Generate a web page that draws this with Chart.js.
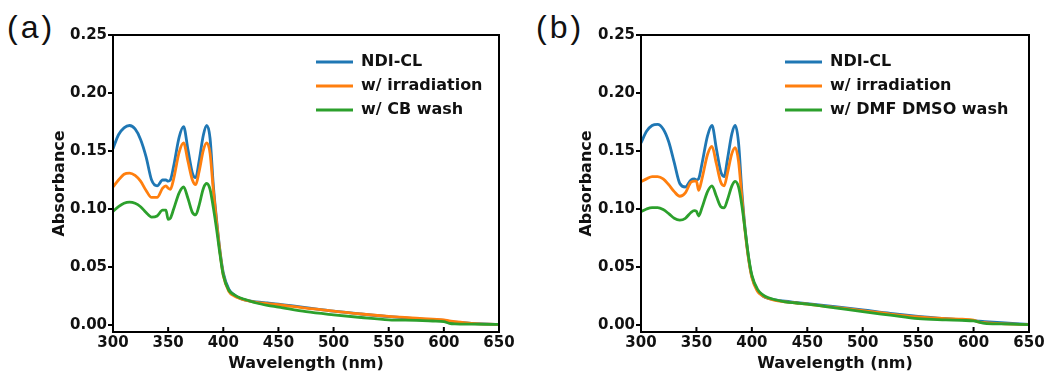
<!DOCTYPE html>
<html lang="en">
<head>
    <meta charset="UTF-8">
    <title>UV-vis absorbance</title>
    <script src="https://cdn.jsdelivr.net/npm/chart.js"></script>
    <style>
        body {
            margin: 0;
            width: 1054px;
            height: 375px;
            background: #fff;
            position: relative;
            overflow: hidden;
        }
        canvas {
            position: absolute;
            top: 0;
        }
        #chartA { left: 0; }
        #chartB { left: 527px; }
        .panel-label {
            position: absolute;
            top: 11px;
            font-family: "Liberation Sans", Arial, sans-serif;
            font-size: 32px;
            line-height: 32px;
            letter-spacing: 3px;
            color: #111;
        }
    </style>
</head>
<body>
    <div class="panel-label" style="left: 7px;">(a)</div>
    <div class="panel-label" style="left: 536px;">(b)</div>
    <canvas id="chartA" width="527" height="375"></canvas>
    <canvas id="chartB" width="527" height="375"></canvas>

    <script>
// wavelength grid (nm) shared by every curve
const wavelengths = [300, 305, 310, 315, 320, 325, 330, 335, 340, 345, 348, 350, 352, 355, 360, 364, 368, 372, 375, 378,
    382, 385, 388, 391, 394, 397, 400, 405, 410, 415, 420, 430, 440, 450, 475, 500, 525, 550, 575, 590,
    600, 605, 610, 625, 650];

// panel (a)
const ndiA = [0.152, 0.164, 0.170, 0.172, 0.169, 0.160, 0.145, 0.125, 0.120, 0.125, 0.125, 0.124, 0.125, 0.137, 0.162, 0.171, 0.151, 0.131, 0.127, 0.141,
    0.164, 0.172, 0.161, 0.120, 0.090, 0.064, 0.045, 0.031, 0.026, 0.023, 0.0215, 0.020, 0.019, 0.018, 0.015, 0.012, 0.0095, 0.0072, 0.0055, 0.0045,
    0.004, 0.003, 0.0025, 0.0015, 0.0005];
const irrA = [0.119, 0.125, 0.130, 0.131, 0.129, 0.124, 0.116, 0.110, 0.110, 0.118, 0.120, 0.118, 0.117, 0.126, 0.149, 0.157, 0.141, 0.125, 0.121, 0.132,
    0.151, 0.157, 0.148, 0.116, 0.088, 0.063, 0.043, 0.029, 0.025, 0.023, 0.0215, 0.0195, 0.0185, 0.0175, 0.0145, 0.012, 0.0095, 0.0075, 0.006, 0.005,
    0.0045, 0.0035, 0.003, 0.0015, 0.0005];
const cbWashA = [0.098, 0.102, 0.105, 0.106, 0.105, 0.102, 0.097, 0.093, 0.094, 0.099, 0.099, 0.091, 0.092, 0.100, 0.114, 0.119, 0.109, 0.097, 0.095, 0.103,
    0.118, 0.122, 0.117, 0.101, 0.082, 0.061, 0.043, 0.030, 0.026, 0.0235, 0.022, 0.019, 0.017, 0.0155, 0.0115, 0.0088, 0.0065, 0.0045, 0.004, 0.0035,
    0.003, 0.0015, 0.001, 0.0008, 0.0005];

// panel (b)
const ndiB = [0.157, 0.167, 0.172, 0.173, 0.169, 0.158, 0.140, 0.122, 0.119, 0.125, 0.126, 0.125, 0.126, 0.139, 0.163, 0.172, 0.152, 0.132, 0.128, 0.143,
    0.165, 0.172, 0.157, 0.115, 0.082, 0.058, 0.042, 0.030, 0.025, 0.023, 0.022, 0.0205, 0.0195, 0.0185, 0.0158, 0.013, 0.010, 0.0075, 0.0055, 0.0045,
    0.0038, 0.0033, 0.003, 0.002, 0.0005];
const irrB = [0.1235, 0.126, 0.128, 0.128, 0.126, 0.121, 0.115, 0.111, 0.114, 0.123, 0.124, 0.124, 0.116, 0.126, 0.147, 0.154, 0.139, 0.123, 0.120, 0.131,
    0.148, 0.153, 0.141, 0.110, 0.080, 0.057, 0.041, 0.029, 0.025, 0.023, 0.0215, 0.020, 0.019, 0.018, 0.0152, 0.0125, 0.0095, 0.007, 0.0055, 0.005,
    0.0042, 0.0025, 0.002, 0.0012, 0.0004];
const dmfWashB = [0.0977, 0.100, 0.1012, 0.1012, 0.0995, 0.096, 0.092, 0.0905, 0.092, 0.097, 0.0986, 0.098, 0.094, 0.101, 0.115, 0.120, 0.111, 0.102, 0.101, 0.108,
    0.120, 0.1238, 0.119, 0.103, 0.081, 0.059, 0.043, 0.031, 0.026, 0.0235, 0.022, 0.020, 0.019, 0.018, 0.0148, 0.0115, 0.0085, 0.0055, 0.0045, 0.004,
    0.0035, 0.0025, 0.0015, 0.001, 0.0003];

const yTicks = [0.00, 0.05, 0.10, 0.15, 0.20, 0.25];
const xTicks = [300, 350, 400, 450, 500, 550, 600, 650];

const colors = ['#1f77b4', '#ff7f0e', '#2ca02c'];
const tickFont = { family: 'DejaVu Sans', size: 15, weight: 'bold' };
const titleFont = { family: 'DejaVu Sans', size: 16, weight: 'bold' };
const labelFont = { family: 'DejaVu Sans', size: 16, weight: 'bold' };

function toPoints(values) {
    return wavelengths.map((w, i) => ({ x: w, y: values[i] }));
}

// black frame round the plot + inward ticks on the x axis
const framePlugin = {
    id: 'frame',
    afterDraw(chart) {
        const { ctx, chartArea: a } = chart;
        const xs = chart.scales.x;
        ctx.save();
        ctx.strokeStyle = '#000';
        ctx.lineWidth = 2;
        ctx.strokeRect(a.left, a.top, a.right - a.left, a.bottom - a.top);
        ctx.beginPath();
        xTicks.forEach(t => {
            const px = xs.getPixelForValue(t);
            ctx.moveTo(px, a.bottom);
            ctx.lineTo(px, a.bottom - 5);
        });
        ctx.stroke();
        ctx.restore();
    }
};

// move the legend to the upper right of the plot
const legendShift = {
    id: 'legendShift',
    afterLayout(chart, args, opts) {
        chart.legend.left = opts.x;
        chart.legend.top = opts.y;
    }
};

function makeChart(id, labels, series, yWidth, padRight, legendX) {
    const ctx = document.getElementById(id).getContext('2d');
    return new Chart(ctx, {
        type: 'line',
        data: {
            datasets: series.map((s, i) => ({
                label: labels[i],
                data: toPoints(s),
                borderColor: colors[i],
                backgroundColor: colors[i],
                borderWidth: 2.8,
                pointRadius: 0,
                fill: false,
                cubicInterpolationMode: 'monotone',
                order: 3 - i
            }))
        },
        options: {
            responsive: false,
            animation: false,
            layout: { padding: { top: 35, right: padRight, left: 0, bottom: 0 } },
            plugins: {
                tooltip: { enabled: false },
                legend: {
                    position: 'chartArea',
                    align: 'start',
                    labels: {
                        usePointStyle: true,
                        pointStyle: 'line',
                        pointStyleWidth: 37,
                        font: labelFont,
                        color: '#111',
                        padding: 8,
                        sort: (a, b) => a.datasetIndex - b.datasetIndex
                    }
                },
                legendShift: { x: legendX, y: 46 }
            },
            scales: {
                x: {
                    type: 'linear',
                    min: 300,
                    max: 650,
                    afterBuildTicks: scale => { scale.ticks = xTicks.map(v => ({ value: v })); },
                    afterFit: scale => { scale.height = 43; },
                    grid: { display: false, drawTicks: false },
                    border: { display: true, color: '#000', width: 2 },
                    ticks: { font: tickFont, color: '#111', padding: 2, maxRotation: 0 },
                    title: {
                        display: true,
                        text: 'Wavelength (nm)',
                        font: titleFont,
                        color: '#111',
                        padding: { top: 0, bottom: 2 }
                    }
                },
                y: {
                    min: -0.006,
                    max: 0.25,
                    afterBuildTicks: scale => { scale.ticks = yTicks.map(v => ({ value: v })); },
                    afterFit: scale => { scale.width = yWidth; },
                    grid: { drawOnChartArea: false, drawTicks: true, tickLength: 5, color: '#000', lineWidth: 2 },
                    border: { display: true, color: '#000', width: 2 },
                    ticks: {
                        font: tickFont,
                        color: '#111',
                        padding: 1,
                        callback: v => v.toFixed(2)
                    },
                    title: {
                        display: true,
                        text: 'Absorbance',
                        font: titleFont,
                        color: '#111',
                        padding: { top: 50, bottom: 0 }
                    }
                }
            }
        },
        plugins: [framePlugin, legendShift]
    });
}

makeChart('chartA', ['NDI-CL', 'w/ irradiation', 'w/ CB wash'], [ndiA, irrA, cbWashA], 113, 28, 308);
makeChart('chartB', ['NDI-CL', 'w/ irradiation', 'w/ DMF DMSO wash'], [ndiB, irrB, dmfWashB], 114, 25, 250);
    </script>
</body>
</html>
